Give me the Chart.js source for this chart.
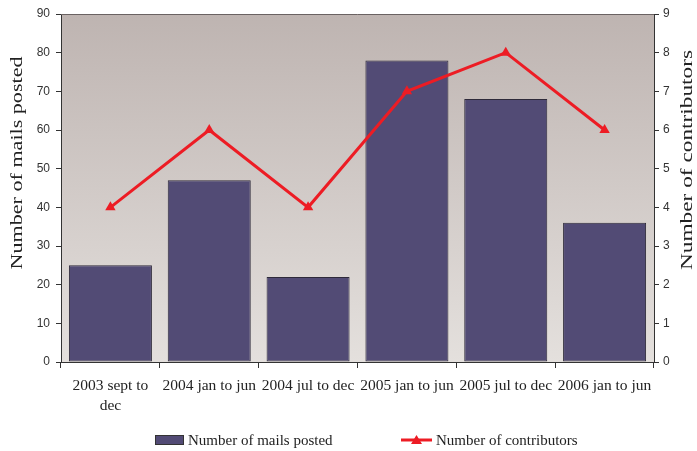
<!DOCTYPE html>
<html>
<head>
<meta charset="utf-8">
<script src="https://cdn.jsdelivr.net/npm/chart.js@4.4.1/dist/chart.umd.min.js"></script>
<style>
  html, body { margin: 0; padding: 0; background: #fff; }
  #wrap { width: 697px; height: 451px; position: relative; }
</style>
</head>
<body>
<div id="wrap"><canvas id="chart" width="697" height="451"></canvas></div>
<script>
const periods = [['2003 sept to', 'dec'], '2004 jan to jun', '2004 jul to dec', '2005 jan to jun', '2005 jul to dec', '2006 jan to jun'];
const mailsPosted = [25, 47, 22, 78, 68, 36];
const contributors = [4, 6, 4, 7, 8, 6];
const mailTicks = [0, 10, 20, 30, 40, 50, 60, 70, 80, 90];
const contributorTicks = [0, 1, 2, 3, 4, 5, 6, 7, 8, 9];

const barColor = '#524b75';
const lineColor = '#ed1c24';
const axisColor = '#333';
const serif = '"Liberation Serif", "Times New Roman", serif';
const sans = '"Liberation Sans", Arial, sans-serif';

// rotated title stretched along its length like the original
function sideTitle(ctx, text, x, y, len) {
    ctx.save();
    ctx.fillStyle = '#222';
    ctx.font = '17px ' + serif;
    ctx.textAlign = 'center';
    ctx.textBaseline = 'middle';
    const w = ctx.measureText(text).width;
    ctx.translate(x, y);
    ctx.rotate(-Math.PI / 2);
    ctx.scale(len / w, 1);
    ctx.fillText(text, 0, 0);
    ctx.restore();
}

// gradient behind the plot + hand drawn titles and legend
const decor = {
    id: 'decor',
    beforeDraw(chart) {
        const { ctx, chartArea: a } = chart;
        const g = ctx.createLinearGradient(0, a.top, 0, a.bottom);
        g.addColorStop(0, '#beb4b1');
        g.addColorStop(1, '#e4e0dd');
        ctx.save();
        ctx.fillStyle = g;
        ctx.fillRect(a.left, a.top, a.right - a.left, a.bottom - a.top);
        ctx.restore();
    },
    afterDraw(chart) {
        const { ctx, chartArea: a } = chart;
        ctx.save();
        ctx.strokeStyle = '#6a6262';
        ctx.lineWidth = 1;
        ctx.beginPath();
        ctx.moveTo(a.left, a.top + 0.5);
        ctx.lineTo(a.right, a.top + 0.5);
        ctx.stroke();
        ctx.restore();

        sideTitle(ctx, 'Number of mails posted', 18, 163, 213);
        sideTitle(ctx, 'Number of contributors', 688, 160, 220);

        // legend
        const ly = 440;
        ctx.save();
        ctx.fillStyle = barColor;
        ctx.strokeStyle = axisColor;
        ctx.lineWidth = 1;
        ctx.fillRect(155.5, ly - 4.5, 28, 9);
        ctx.strokeRect(155.5, ly - 4.5, 28, 9);
        ctx.fillStyle = '#222';
        ctx.font = '15px ' + serif;
        ctx.textBaseline = 'middle';
        ctx.fillText('Number of mails posted', 188, ly + 1);

        ctx.strokeStyle = lineColor;
        ctx.lineWidth = 3;
        ctx.beginPath();
        ctx.moveTo(401, ly);
        ctx.lineTo(432, ly);
        ctx.stroke();
        ctx.fillStyle = lineColor;
        ctx.beginPath();
        ctx.moveTo(416.5, ly - 5);
        ctx.lineTo(422, ly + 4);
        ctx.lineTo(411, ly + 4);
        ctx.closePath();
        ctx.fill();
        ctx.fillStyle = '#222';
        ctx.fillText('Number of contributors', 436, ly + 1);
        ctx.restore();
    }
};

new Chart(document.getElementById('chart'), {
    data: {
        labels: periods,
        datasets: [
            {
                type: 'line',
                label: 'Number of contributors',
                data: contributors,
                yAxisID: 'y2',
                borderColor: lineColor,
                backgroundColor: lineColor,
                borderWidth: 3,
                pointStyle: 'triangle',
                pointRadius: 6,
                pointBorderWidth: 0,
                tension: 0,
                order: 0
            },
            {
                type: 'bar',
                label: 'Number of mails posted',
                data: mailsPosted,
                yAxisID: 'y',
                backgroundColor: barColor,
                borderColor: '#2e2a3a',
                borderWidth: 1,
                borderSkipped: false,
                categoryPercentage: 1,
                barPercentage: 0.84,
                order: 1
            }
        ]
    },
    options: {
        responsive: false,
        animation: false,
        layout: { padding: { top: 14, left: 0, right: 0, bottom: 0 } },
        plugins: { legend: { display: false }, tooltip: { enabled: false } },
        scales: {
            x: {
                offset: true,
                grid: { offset: true, drawOnChartArea: false, tickLength: 6, color: axisColor },
                border: { color: axisColor, width: 1 },
                ticks: { color: '#222', font: { family: serif, size: 15.5, lineHeight: 1.35 }, padding: 7, maxRotation: 0, autoSkip: false },
                afterFit(s) { s.height = 89; }
            },
            y: {
                position: 'left',
                min: 0, max: 90,
                afterBuildTicks(s) { s.ticks = mailTicks.map(v => ({ value: v })); },
                grid: { drawOnChartArea: false, tickLength: 5, color: axisColor },
                border: { color: axisColor, width: 1 },
                ticks: { color: '#333', font: { family: sans, size: 12 }, padding: 6 },
                afterFit(s) { s.width = 61; }
            },
            y2: {
                position: 'right',
                min: 0, max: 9,
                afterBuildTicks(s) { s.ticks = contributorTicks.map(v => ({ value: v })); },
                grid: { drawOnChartArea: false, tickLength: 5, color: axisColor },
                border: { color: axisColor, width: 1 },
                ticks: { color: '#333', font: { family: sans, size: 12 }, padding: 4 },
                afterFit(s) { s.width = 43; }
            }
        }
    },
    plugins: [decor]
});
</script>
</body>
</html>
